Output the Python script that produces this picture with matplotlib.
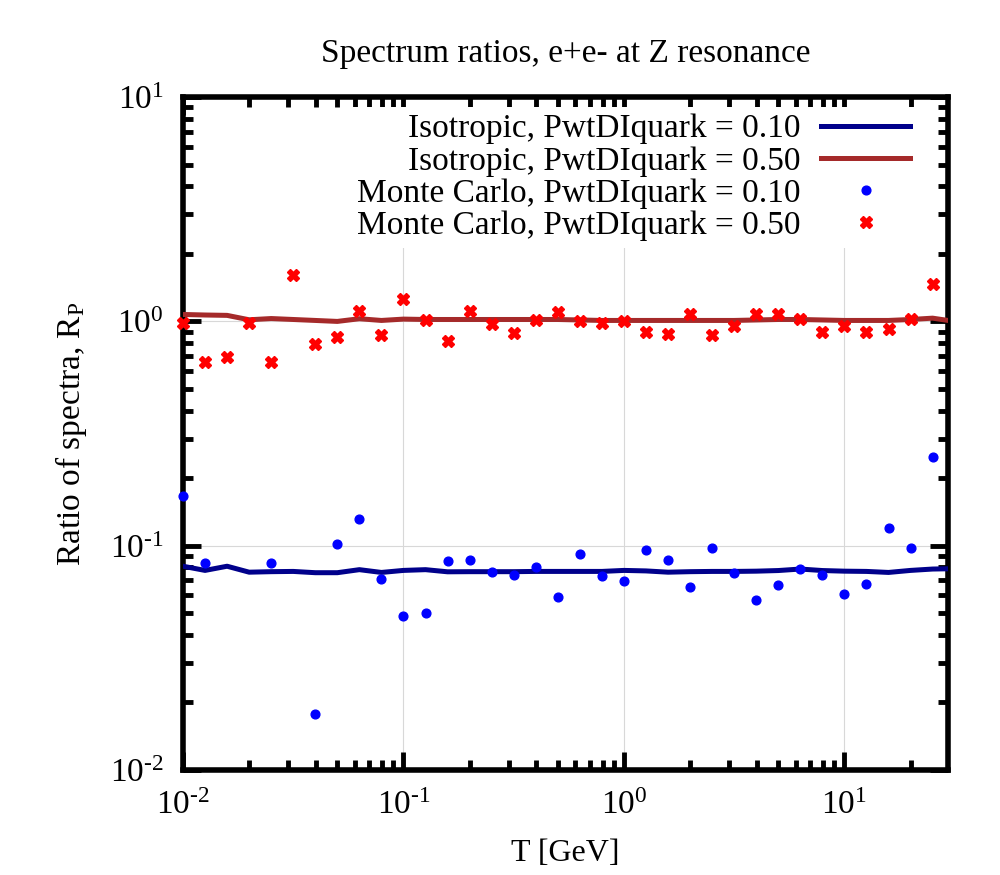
import numpy as np
import matplotlib
matplotlib.use("Agg")
import matplotlib.pyplot as plt
from matplotlib.ticker import LogLocator, NullFormatter, FuncFormatter

plt.rcParams['font.family'] = ['Liberation Serif', 'DejaVu Serif']
plt.rcParams['mathtext.fontset'] = 'custom'
plt.rcParams['mathtext.rm'] = 'Liberation Serif'
plt.rcParams['mathtext.it'] = 'Liberation Serif:italic'
plt.rcParams['mathtext.default'] = 'rm'

# x grid exponents (log10 T)
log_T = [-2.0, -1.9, -1.8, -1.7, -1.6, -1.5, -1.4, -1.3, -1.2, -1.1,
         -1.0, -0.9, -0.8, -0.7, -0.6, -0.5, -0.4, -0.3, -0.2, -0.1,
         0.0, 0.1, 0.2, 0.3, 0.4, 0.5, 0.6, 0.7, 0.8, 0.9,
         1.0, 1.1, 1.2, 1.3, 1.4, 1.5]
T = [10 ** v for v in log_T]

iso_010 = [0.081, 0.0776, 0.081, 0.0762, 0.0766, 0.0768, 0.0758, 0.0758, 0.0782, 0.076,
           0.0776, 0.0782, 0.0765, 0.0766, 0.0766, 0.0766, 0.0768, 0.0768, 0.0768, 0.0768,
           0.0776, 0.0772, 0.0762, 0.0766, 0.0768, 0.0768, 0.0770, 0.0775, 0.0787, 0.0775,
           0.0770, 0.0768, 0.0760, 0.0776, 0.0787, 0.0790]
iso_050 = [1.074, 1.068, 1.064, 1.017, 1.03, 1.02, 1.01, 1.0, 1.028, 1.01,
           1.024, 1.02, 1.02, 1.02, 1.02, 1.02, 1.02, 1.02, 1.015, 1.01,
           1.01, 1.01, 1.01, 1.01, 1.01, 1.01, 1.015, 1.02, 1.02, 1.015,
           1.01, 1.01, 1.01, 1.02, 1.034, 1.0]

mc_010 = [0.166, 0.0836, np.nan, np.nan, 0.0836, np.nan, 0.0177, 0.1017, 0.131, 0.0710,
          0.0484, 0.0499, 0.0851, 0.086, 0.0762, 0.0742, 0.0805, 0.0590, 0.0921, 0.0735,
          0.0695, 0.0953, 0.086, 0.0656, 0.0976, 0.0753, 0.0572, 0.0667, 0.0789, 0.0740,
          0.0608, 0.0672, 0.120, 0.098, 0.248]
mc_050 = [0.983, 0.659, 0.693, 0.98, 0.659, 1.615, 0.792, 0.849, 1.112, 0.869,
          1.253, 1.01, 0.817, 1.108, 0.977, 0.884, 1.01, 1.097, 1.007, 0.983,
          1.007, 0.896, 0.878, 1.074, 0.869, 0.953, 1.074, 1.074, 1.028, 0.893,
          0.957, 0.893, 0.927, 1.021, 1.473]
T_mc = T[:len(mc_010)]

labels = ["Isotropic, PwtDIquark = 0.10", "Isotropic, PwtDIquark = 0.50",
          "Monte Carlo, PwtDIquark = 0.10", "Monte Carlo, PwtDIquark = 0.50"]

fig = plt.figure(figsize=(10, 8.75), dpi=100)
ax = fig.add_axes([0.183, 0.12, 0.765, 0.769])

ax.plot(T, iso_010, color='#00008b', lw=3.6, label=labels[0], zorder=3)
ax.plot(T, iso_050, color='#a52a2a', lw=3.6, label=labels[1], zorder=3)
ax.plot(T_mc, mc_010, ls='none', marker='o', ms=6.3, color='#0000ff',
        label=labels[2], zorder=4, clip_on=False)
ax.plot(T_mc, mc_050, ls='none', marker='X', ms=9, color='#ff0000',
        mec='#ff0000', label=labels[3], zorder=4, clip_on=False)

ax.set_xscale('log')
ax.set_yscale('log')
ax.set_xlim(0.01, 29.5)
ax.set_ylim(0.01, 10)


def pow_fmt(v, pos):
    e = int(round(np.log10(v)))
    s = str(e).replace('-', '\u2010')
    return r"10$^{" + s + "}$"


ax.xaxis.set_major_locator(LogLocator(base=10, numticks=10))
ax.xaxis.set_minor_locator(LogLocator(base=10, subs=np.arange(2, 10), numticks=20))
ax.yaxis.set_major_locator(LogLocator(base=10, numticks=10))
ax.yaxis.set_minor_locator(LogLocator(base=10, subs=np.arange(2, 10), numticks=20))
ax.xaxis.set_major_formatter(FuncFormatter(pow_fmt))
ax.yaxis.set_major_formatter(FuncFormatter(pow_fmt))
ax.xaxis.set_minor_formatter(NullFormatter())
ax.yaxis.set_minor_formatter(NullFormatter())

ax.tick_params(which='both', direction='in', top=True, right=True, width=3.5,
               labelsize=24, colors='black')
ax.tick_params(axis='x', which='both', pad=15)
ax.tick_params(axis='y', which='both', pad=14)
ax.tick_params(which='major', length=13)
ax.tick_params(which='minor', length=7)
for s in ax.spines.values():
    s.set_linewidth(4)

ax.grid(True, which='major', color='#d8d8d8', lw=0.8, zorder=0)
ax.set_axisbelow(True)

ax.set_xlabel("T [GeV]", fontsize=23, labelpad=13)
ax.set_ylabel(r"Ratio of spectra, R$_{\mathrm{P}}$", fontsize=24, labelpad=15)
ax.set_title("Spectrum ratios, e+e- at Z resonance", fontsize=24, pad=25)

leg = ax.legend(loc='upper right', bbox_to_anchor=(0.9595, 0.985), fontsize=24,
                markerfirst=False, frameon=True, framealpha=1, edgecolor='none',
                facecolor='white', fancybox=False, handlelength=2.67,
                labelspacing=0.05, borderaxespad=0.0, borderpad=0.2,
                handletextpad=0.63)
leg.set_zorder(5)

fig.savefig("out.png", dpi=100)
